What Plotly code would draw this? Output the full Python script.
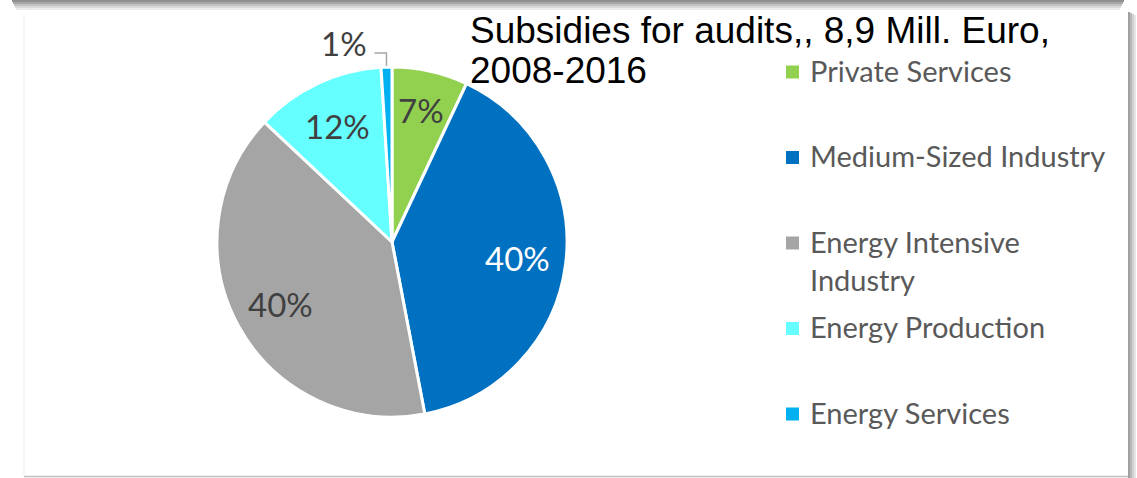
import plotly.graph_objects as go
import math

# ---- data ----
labels = ["Private Services", "Medium-Sized Industry", "Energy Intensive Industry",
          "Energy Production", "Energy Services"]
values = [7, 40, 40, 12, 1]
colors = ["#92D050", "#0070C0", "#A5A5A5", "#66FFFF", "#00B0F0"]
title_lines = ["Subsidies for audits,, 8,9 Mill. Euro,", "2008-2016"]

W, H = 1137, 478
def px(x): return x / W
def py(y): return 1 - y / H

# pie geometry (pixels)
CX, CY, R = 392, 242, 175

fig = go.Figure()
fig.add_trace(go.Pie(
    labels=labels, values=values, sort=False, direction="clockwise", rotation=0,
    marker=dict(colors=colors, line=dict(color="white", width=3)),
    textinfo="none", hoverinfo="label+percent", showlegend=False,
    domain=dict(x=[px(CX - R), px(CX + R)], y=[py(CY + R), py(CY - R)]),
))

annotations = []
shapes = []

# percentage labels computed from the data
total = sum(values)
cum = 0
label_r = [0.77, 0.72, 0.73, 0.73, None]
text_col = ["#404040", "#FFFFFF", "#404040", "#404040", "#404040"]
for i, v in enumerate(values):
    a0 = cum / total * 360
    cum += v
    a1 = cum / total * 360
    mid = math.radians((a0 + a1) / 2)
    pct = f"{round(v / total * 100)}%"
    if label_r[i] is not None:
        x = CX + label_r[i] * R * math.sin(mid)
        y = CY - label_r[i] * R * math.cos(mid)
        annotations.append(dict(x=px(x), y=py(y), xref="paper", yref="paper",
                                text=pct, showarrow=False,
                                font=dict(family="Lato", size=33, color=text_col[i]),
                                xanchor="center", yanchor="middle"))
    else:
        # outside label with elbow leader line
        ex = CX + (R + 1) * math.sin(mid)
        ey = CY - (R + 1) * math.cos(mid)
        shapes.append(dict(type="path", xref="paper", yref="paper",
                           path=f"M {px(ex)} {py(ey)} L {px(ex)} {py(ey - 13)} L {px(ex - 12)} {py(ey - 13)}",
                           line=dict(color="#A6A6A6", width=1.5)))
        annotations.append(dict(x=px(ex - 17), y=py(ey - 23), xref="paper", yref="paper",
                                text=pct, showarrow=False,
                                font=dict(family="Lato", size=33, color="#404040"),
                                xanchor="right", yanchor="middle"))

# title
for j, t in enumerate(title_lines):
    annotations.append(dict(x=px(468), y=py(31 + 40 * j), xref="paper", yref="paper",
                            text=t, showarrow=False,
                            font=dict(family="Liberation Sans, Arial", size=37, color="#000000"),
                            xanchor="left", yanchor="middle"))

# legend (custom, to match spacing)
for i, (lab, col) in enumerate(zip(labels, colors)):
    yc = 72 + 85.5 * i
    shapes.append(dict(type="rect", xref="paper", yref="paper",
                       x0=px(786), x1=px(799), y0=py(yc - 6.5), y1=py(yc + 6.5),
                       fillcolor=col, line=dict(width=0)))
    txt = lab.replace("Energy Intensive Industry", "Energy Intensive<br>Industry")
    annotations.append(dict(x=px(808), y=py(yc - 21.5), xref="paper", yref="paper",
                            text=txt, showarrow=False, align="left",
                            font=dict(family="Lato", size=29, color="#595959"),
                            xanchor="left", yanchor="top"))

# frame & shadows
top_shades = ["#8f8f8f", "#a8a8a8", "#c2c2c2", "#d9d9d9", "#ececec"]
for k, c in enumerate(top_shades):
    shapes.append(dict(type="rect", xref="paper", yref="paper", layer="below",
                       x0=px(12 + k), x1=px(1124 - k), y0=py(2 * k + 2), y1=py(2 * k),
                       fillcolor=c, line=dict(width=0)))
right_shades = ["#a0a0a0", "#b8b8b8", "#d0d0d0", "#e6e6e6"]
for k, c in enumerate(right_shades):
    shapes.append(dict(type="rect", xref="paper", yref="paper", layer="below",
                       x0=px(1128 + 2 * k), x1=px(1130 + 2 * k), y0=py(478), y1=py(12 + k),
                       fillcolor=c, line=dict(width=0)))
shapes.append(dict(type="line", xref="paper", yref="paper", layer="below",
                   x0=px(24), x1=px(24), y0=py(14), y1=py(476),
                   line=dict(color="#EFEFEF", width=1)))
shapes.append(dict(type="line", xref="paper", yref="paper", layer="below",
                   x0=px(24), x1=px(1128), y0=py(476.5), y1=py(476.5),
                   line=dict(color="#BFBFBF", width=1.5)))

fig.update_layout(width=W, height=H, autosize=False,
                  margin=dict(l=0, r=0, t=0, b=0),
                  paper_bgcolor="white", plot_bgcolor="white",
                  annotations=annotations, shapes=shapes)
fig.write_html("out.html")
